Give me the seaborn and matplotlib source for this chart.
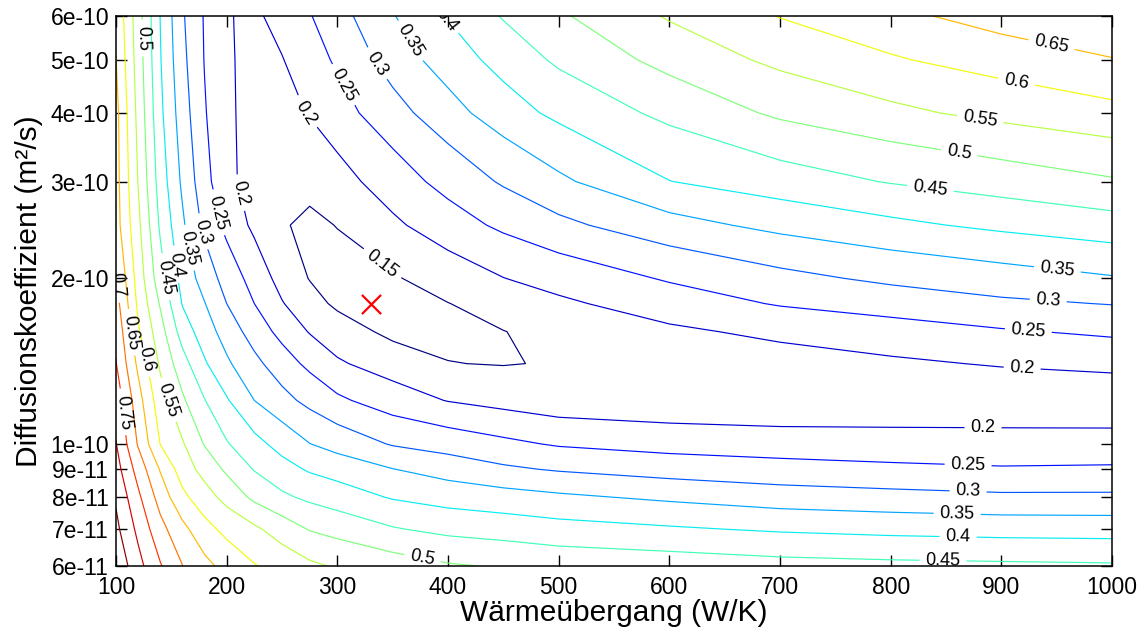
import numpy as np
import matplotlib
matplotlib.use("Agg")
import matplotlib.pyplot as plt
from matplotlib.colors import Normalize
from matplotlib.ticker import FixedLocator, FixedFormatter, NullLocator
import seaborn as sns

# Grid of the parameter study
heat_transfer = [100, 120, 140, 160, 180, 200, 225, 250, 275, 300, 350,
                 400, 450, 500, 600, 700, 800, 900, 1000]          # W/K
diffusion = [6e-10, 5e-10, 4e-10, 3e-10, 2.5e-10, 2e-10, 1.8e-10, 1.6e-10,
             1.4e-10, 1.2e-10, 1e-10, 9e-11, 8e-11, 7e-11, 6e-11]  # m²/s

# Residual of the fit at every grid point (rows follow `diffusion`)
residual = [
    [0.640, 0.522, 0.399, 0.306, 0.246, 0.203, 0.191, 0.218, 0.247, 0.281, 0.347, 0.404, 0.454, 0.493, 0.555, 0.602, 0.637, 0.671, 0.695],
    [0.651, 0.527, 0.403, 0.313, 0.248, 0.206, 0.186, 0.198, 0.227, 0.258, 0.323, 0.374, 0.418, 0.459, 0.517, 0.562, 0.595, 0.623, 0.648],
    [0.665, 0.536, 0.411, 0.324, 0.254, 0.208, 0.184, 0.182, 0.204, 0.230, 0.281, 0.331, 0.377, 0.412, 0.463, 0.509, 0.539, 0.564, 0.586],
    [0.668, 0.548, 0.427, 0.341, 0.268, 0.210, 0.184, 0.170, 0.160, 0.181, 0.225, 0.267, 0.306, 0.341, 0.399, 0.427, 0.453, 0.474, 0.495],
    [0.670, 0.562, 0.442, 0.358, 0.287, 0.236, 0.189, 0.153, 0.143, 0.151, 0.191, 0.227, 0.260, 0.288, 0.332, 0.364, 0.389, 0.411, 0.430],
    [0.703, 0.579, 0.470, 0.382, 0.329, 0.280, 0.231, 0.182, 0.148, 0.138, 0.145, 0.173, 0.199, 0.219, 0.255, 0.286, 0.310, 0.328, 0.346],
    [0.720, 0.590, 0.495, 0.397, 0.352, 0.300, 0.250, 0.203, 0.168, 0.141, 0.132, 0.149, 0.170, 0.191, 0.225, 0.254, 0.272, 0.291, 0.302],
    [0.740, 0.606, 0.520, 0.428, 0.374, 0.329, 0.278, 0.235, 0.197, 0.174, 0.138, 0.140, 0.149, 0.164, 0.191, 0.211, 0.228, 0.245, 0.258],
    [0.752, 0.639, 0.542, 0.470, 0.406, 0.358, 0.313, 0.273, 0.238, 0.206, 0.177, 0.151, 0.148, 0.153, 0.166, 0.179, 0.192, 0.204, 0.214],
    [0.780, 0.670, 0.571, 0.508, 0.452, 0.405, 0.350, 0.316, 0.286, 0.259, 0.224, 0.198, 0.183, 0.169, 0.162, 0.159, 0.163, 0.163, 0.162],
    [0.802, 0.695, 0.599, 0.555, 0.497, 0.454, 0.416, 0.382, 0.351, 0.331, 0.296, 0.279, 0.261, 0.245, 0.232, 0.225, 0.221, 0.220, 0.220],
    [0.820, 0.730, 0.646, 0.576, 0.532, 0.491, 0.447, 0.418, 0.394, 0.380, 0.351, 0.329, 0.308, 0.295, 0.278, 0.268, 0.260, 0.254, 0.256],
    [0.843, 0.760, 0.680, 0.612, 0.571, 0.534, 0.489, 0.459, 0.440, 0.425, 0.396, 0.380, 0.370, 0.359, 0.341, 0.324, 0.316, 0.309, 0.309],
    [0.862, 0.788, 0.716, 0.664, 0.617, 0.586, 0.559, 0.527, 0.497, 0.483, 0.454, 0.437, 0.428, 0.418, 0.406, 0.394, 0.386, 0.381, 0.379],
    [0.890, 0.816, 0.754, 0.701, 0.664, 0.634, 0.603, 0.581, 0.559, 0.545, 0.525, 0.505, 0.496, 0.485, 0.477, 0.467, 0.462, 0.459, 0.456],
]

levels = [0.15, 0.2, 0.25, 0.3, 0.35, 0.4, 0.45, 0.5, 0.55, 0.6, 0.65,
          0.7, 0.75, 0.8, 0.85]

# Best-fit parameter pair
best_heat_transfer = [330]
best_diffusion = [1.8e-10]

x_ticks = [100, 200, 300, 400, 500, 600, 700, 800, 900, 1000]
y_ticks = [6e-11, 7e-11, 8e-11, 9e-11, 1e-10, 2e-10, 3e-10, 4e-10, 5e-10, 6e-10]
y_tick_labels = ["6e-11", "7e-11", "8e-11", "9e-11", "1e-10",
                 "2e-10", "3e-10", "4e-10", "5e-10", "6e-10"]

# Where the contour values are written (level -> anchor points)
label_anchors = {
    0.15: [(338.6, 2.10e-10)],
    0.2: [(271.7, 4.0e-10), (207.5, 2.84e-10), (918.7, 1.36e-10), (883.4, 1.05e-10)],
    0.25: [(302.4, 4.46e-10), (191.3, 2.63e-10), (924.1, 1.58e-10), (869.9, 9.08e-11)],
    0.3: [(332.2, 4.85e-10), (175.9, 2.42e-10), (942.2, 1.80e-10), (869.9, 8.14e-11)],
    0.35: [(363.0, 5.36e-10), (165.1, 2.27e-10), (950.3, 2.05e-10), (860.0, 7.34e-11)],
    0.4: [(395.5, 5.85e-10), (156.0, 2.12e-10), (860.9, 6.69e-11)],
    0.45: [(144.3, 2.01e-10), (835.5, 2.87e-10), (847.3, 6.08e-11)],
    0.5: [(120.8, 5.47e-10), (860.9, 3.28e-10), (376.5, 6.13e-11)],
    0.55: [(147.0, 1.20e-10), (879.8, 3.76e-10)],
    0.6: [(123.5, 1.42e-10), (912.4, 4.42e-10)],
    0.65: [(110.8, 1.59e-10), (944.9, 5.27e-10)],
    0.7: [(100.9, 1.95e-10)],
    0.75: [(103.6, 1.14e-10)],
}

sns.set_style("ticks")
plt.rcParams["font.family"] = ["Liberation Sans", "DejaVu Sans"]
plt.rcParams.update({"axes.edgecolor": "black", "text.color": "black",
                     "axes.labelcolor": "black", "xtick.color": "black",
                     "ytick.color": "black"})

fig = plt.figure(figsize=(11.43, 6.28), dpi=100)
ax = fig.add_axes([116 / 1143, 1 - 566 / 628, 996 / 1143, 550 / 628])

X, Y = np.meshgrid(heat_transfer, diffusion)
Z = np.array(residual)

# jet colours spread over the contour levels
cmap = matplotlib.colormaps["jet"]
norm = Normalize(vmin=min(levels), vmax=max(levels))
line_colors = sns.color_palette([cmap(norm(v)) for v in levels])

ax.set_yscale("log")
label_texts = []
for lev, col in zip(levels, line_colors):
    cs = ax.contour(X, Y, Z, levels=[lev], colors=[col], linewidths=0.85)
    if lev in label_anchors:
        label_texts += ax.clabel(cs, manual=label_anchors[lev], inline=True,
                                 inline_spacing=6, fmt="%g", fontsize=13,
                                 colors="black")
for t in label_texts:
    t.set_clip_on(True)
    t.set_fontfamily(["Liberation Sans", "DejaVu Sans"])

sns.scatterplot(x=best_heat_transfer, y=best_diffusion, marker="x", s=190,
                color="red", linewidth=1.6, ax=ax, zorder=5, legend=False)

ax.set_xlim(100, 1000)
ax.set_ylim(6e-11, 6e-10)
ax.xaxis.set_major_locator(FixedLocator(x_ticks))
ax.yaxis.set_major_locator(FixedLocator(y_ticks))
ax.yaxis.set_major_formatter(FixedFormatter(y_tick_labels))
ax.yaxis.set_minor_locator(NullLocator())
ax.xaxis.set_minor_locator(NullLocator())

ax.tick_params(which="both", direction="in", top=True, right=True,
               length=8, width=1, labelsize=16.5, color="black")
ax.tick_params(axis="x", pad=7)
ax.tick_params(axis="y", pad=5)
for side in ["left", "right", "top", "bottom"]:
    ax.spines[side].set_visible(True)
    ax.spines[side].set_linewidth(1.1)

ax.set_xlabel("Wärmeübergang (W/K)", fontsize=21.5, labelpad=0)
ax.set_ylabel("Diffusionskoeffizient (m²/s)", fontsize=21.5, labelpad=5)

fig.savefig("out.png", dpi=100)
